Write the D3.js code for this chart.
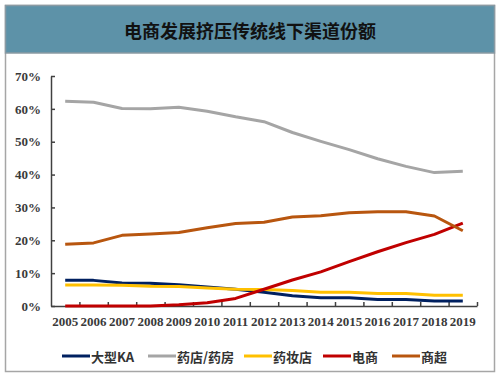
<!DOCTYPE html>
<html>
<head>
<meta charset="utf-8">
<script src="https://cdn.jsdelivr.net/npm/d3@7"></script>
<style>
  body { margin: 0; background: #fff; }
  svg { display: block; }
  .axis path, .axis line { stroke: #404040; }
  .axis text { font-family: "Liberation Serif", "DejaVu Serif", serif; font-size: 13px; font-weight: bold; fill: #3a3a3a; }
</style>
</head>
<body>
<svg id="chart" width="500" height="377"></svg>
<script>
// chart data
const years = ['2005', '2006', '2007', '2008', '2009', '2010', '2011', '2012', '2013', '2014', '2015', '2016', '2017', '2018', '2019'];
const seriesNames = ['大型KA', '药店/药房', '药妆店', '电商', '商超'];
const kaValues = [7.8, 7.8, 7.0, 6.9, 6.5, 5.8, 5.1, 4.2, 3.1, 2.5, 2.5, 2.0, 2.0, 1.5, 1.5];
const pharmacyValues = [62.3, 62.0, 60.1, 60.0, 60.5, 59.3, 57.6, 56.1, 52.8, 50.1, 47.6, 44.8, 42.5, 40.6, 41.0];
const drugstoreValues = [6.4, 6.4, 6.3, 6.0, 5.9, 5.5, 5.1, 5.0, 4.7, 4.2, 4.2, 3.8, 3.8, 3.3, 3.3];
const ecomValues = [0, 0, 0, 0, 0.4, 1.0, 2.3, 5.1, 7.9, 10.4, 13.5, 16.5, 19.3, 21.8, 25.2];
const marketValues = [18.8, 19.2, 21.5, 21.9, 22.4, 23.8, 25.1, 25.5, 27.1, 27.5, 28.4, 28.7, 28.7, 27.4, 22.9];
const yTicks = [0, 10, 20, 30, 40, 50, 60, 70];

const colors = ['#002060', '#a5a5a5', '#ffc000', '#c00000', '#b8560f'];
const seriesValues = [kaValues, pharmacyValues, drugstoreValues, ecomValues, marketValues];
const series = seriesNames.map((name, i) => ({ name: name, color: colors[i], values: seriesValues[i] }));

const svg = d3.select('#chart');

// frame and title band
svg.append('rect')
  .attr('x', 5.5).attr('y', 5.5)
  .attr('width', 489).attr('height', 366)
  .attr('fill', '#fff')
  .attr('stroke', '#a6a6a6')
  .attr('stroke-width', 1.5);

svg.append('rect')
  .attr('x', 5.5).attr('y', 5.5)
  .attr('width', 489).attr('height', 47.5)
  .attr('fill', '#5d92a8')
  .attr('stroke', '#8a9aa3')
  .attr('stroke-width', 1.5);

svg.append('text')
  .attr('x', 250).attr('y', 30)
  .attr('text-anchor', 'middle')
  .attr('dominant-baseline', 'central')
  .style('font-family', '"Noto Sans CJK SC", sans-serif')
  .style('font-weight', 'bold')
  .style('font-size', '18px')
  .style('fill', '#111')
  .text('电商发展挤压传统线下渠道份额');

// plot area
const margin = { left: 51, right: 23, top: 76, bottom: 71 };
const width = 500 - margin.left - margin.right;
const height = 377 - margin.top - margin.bottom;

const g = svg.append('g')
  .attr('transform', `translate(${margin.left},${margin.top})`);

const xScale = d3.scaleBand().domain(years).range([0, width]);
const xEdge = d3.scaleLinear().domain([0, years.length]).range([0, width]);
const yScale = d3.scaleLinear().domain([0, 70]).range([height, 0]);

// x axis: line with inward ticks at category boundaries
g.append('g')
  .attr('class', 'axis x-axis')
  .attr('transform', `translate(0,${height})`)
  .call(d3.axisBottom(xEdge)
    .tickValues(d3.range(1, years.length + 1))
    .tickSize(-4)
    .tickSizeOuter(0)
    .tickFormat(''))
  .call(a => a.selectAll('path, line').attr('stroke-width', 1.5));

// x labels
g.append('g')
  .attr('class', 'axis x-labels')
  .attr('transform', `translate(0,${height})`)
  .call(d3.axisBottom(xScale).tickSize(0).tickPadding(11))
  .call(a => a.select('.domain').remove());

// y axis
g.append('g')
  .attr('class', 'axis y-axis')
  .call(d3.axisLeft(yScale)
    .tickValues(yTicks)
    .tickSize(-4)
    .tickSizeOuter(0)
    .tickPadding(10)
    .tickFormat(d => d + '%'))
  .call(a => a.selectAll('path, line').attr('stroke-width', 1.5));

// lines
const line = d3.line()
  .x((d, i) => xScale(years[i]) + xScale.bandwidth() / 2)
  .y(d => yScale(d));

g.selectAll('.series')
  .data(series)
  .enter()
  .append('path')
  .attr('class', 'series')
  .attr('fill', 'none')
  .attr('stroke', d => d.color)
  .attr('stroke-width', 3)
  .attr('stroke-linejoin', 'round')
  .attr('d', d => line(d.values));

// legend
const legendX = [62, 148, 244, 323, 392];
const legend = svg.selectAll('.legend')
  .data(series)
  .enter()
  .append('g')
  .attr('class', 'legend')
  .attr('transform', (d, i) => `translate(${legendX[i]},356)`);

legend.append('line')
  .attr('x1', 0).attr('x2', 28)
  .attr('stroke', d => d.color)
  .attr('stroke-width', 3);

legend.append('text')
  .attr('x', 29)
  .attr('dominant-baseline', 'central')
  .style('font-family', '"Noto Sans CJK SC", sans-serif')
  .style('font-weight', 'bold')
  .style('font-size', '13px')
  .style('fill', '#333')
  .text(d => d.name);
</script>
</body>
</html>
